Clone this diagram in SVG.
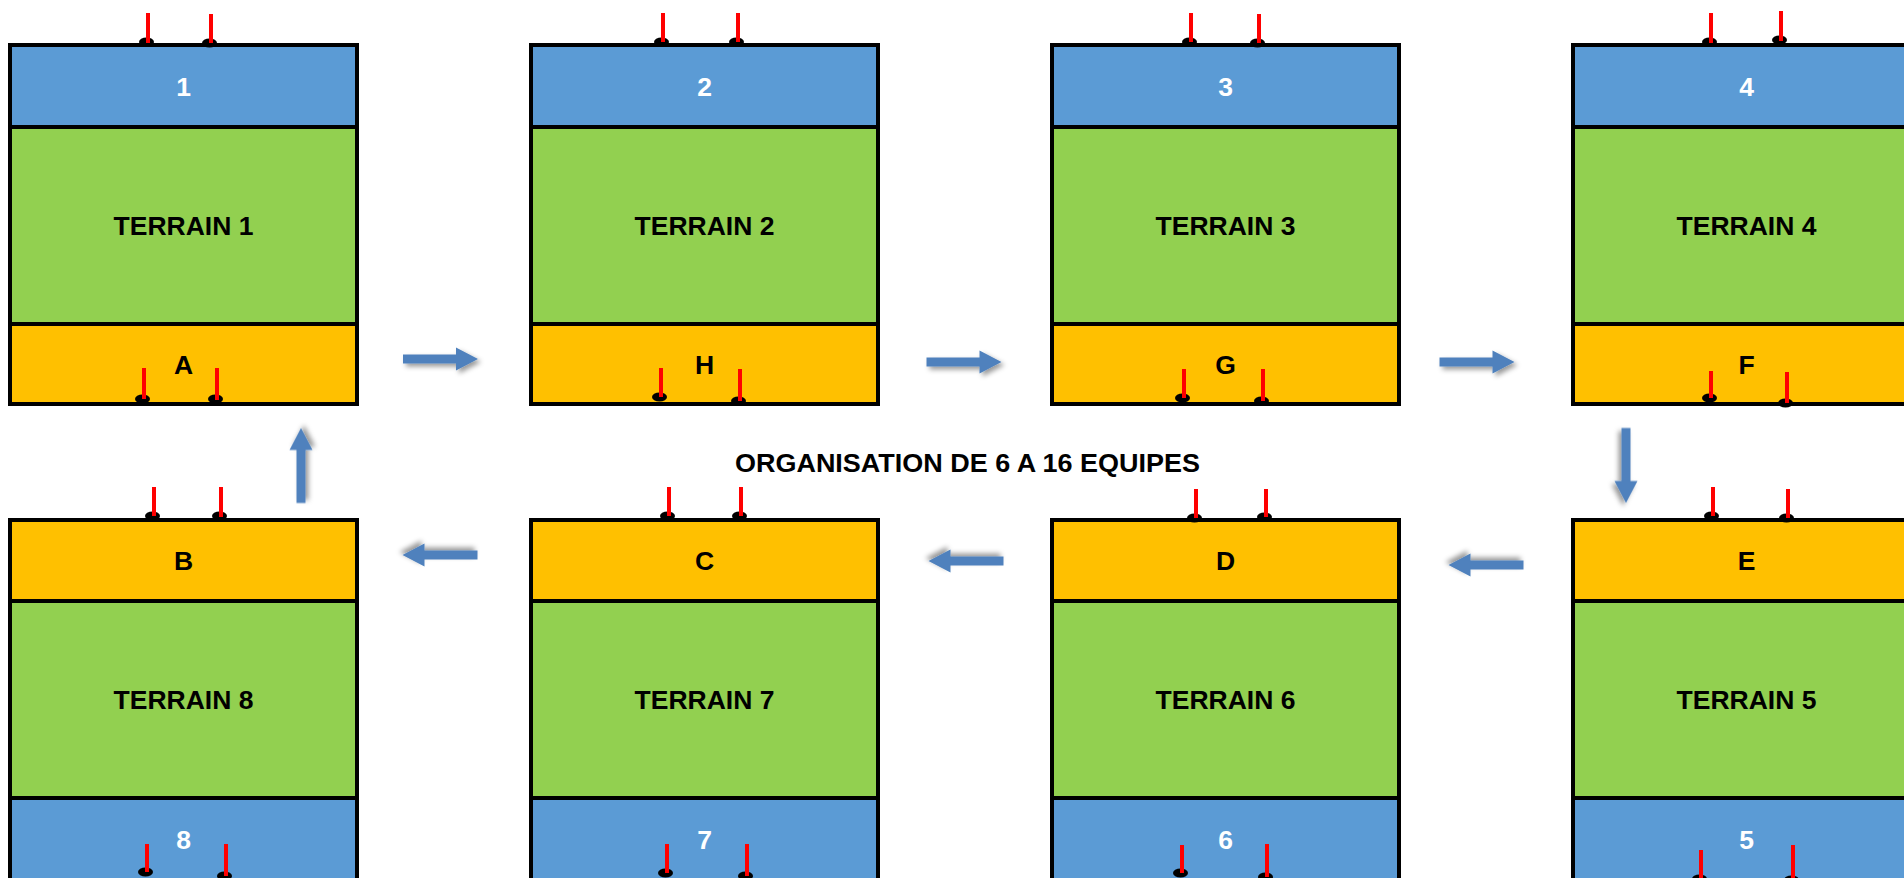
<svg xmlns="http://www.w3.org/2000/svg" width="1904" height="878" viewBox="0 0 1904 878">
<style>
.blue{fill:#5B9BD5;stroke:#000;stroke-width:4}
.green{fill:#92D050;stroke:#000;stroke-width:4}
.orange{fill:#FFC000;stroke:#000;stroke-width:4}
text{font-family:"Liberation Sans",Arial,sans-serif;font-weight:bold;font-size:26.5px;text-anchor:middle}
.w{fill:#fff}
.k{fill:#000}
.pole{stroke:#FF0000;stroke-width:4}
.base{fill:#000}
.arrow{fill:#4F81BD;filter:url(#sh)}
</style>
<defs>
<filter id="sh" x="-30%" y="-60%" width="160%" height="220%">
<feDropShadow dx="3" dy="3" stdDeviation="2.5" flood-color="#000" flood-opacity="0.4"/>
</filter>
<path id="arr" d="M-37.5,-4.5 H15.5 V-11.5 L37.5,0 L15.5,11.5 V4.5 H-37.5 Z"/>
</defs>
<rect width="1904" height="878" fill="#fff"/>

<g id="terrain1">
<rect class="blue" x="10" y="45" width="347" height="82"/>
<rect class="green" x="10" y="127" width="347" height="197"/>
<rect class="orange" x="10" y="324" width="347" height="80"/>
<text class="w" x="183.5" y="96">1</text>
<text class="k" x="183.5" y="235">TERRAIN 1</text>
<text class="k" x="183.5" y="374">A</text>
</g>
<g id="terrain2">
<rect class="blue" x="531" y="45" width="347" height="82"/>
<rect class="green" x="531" y="127" width="347" height="197"/>
<rect class="orange" x="531" y="324" width="347" height="80"/>
<text class="w" x="704.5" y="96">2</text>
<text class="k" x="704.5" y="235">TERRAIN 2</text>
<text class="k" x="704.5" y="374">H</text>
</g>
<g id="terrain3">
<rect class="blue" x="1052" y="45" width="347" height="82"/>
<rect class="green" x="1052" y="127" width="347" height="197"/>
<rect class="orange" x="1052" y="324" width="347" height="80"/>
<text class="w" x="1225.5" y="96">3</text>
<text class="k" x="1225.5" y="235">TERRAIN 3</text>
<text class="k" x="1225.5" y="374">G</text>
</g>
<g id="terrain4">
<rect class="blue" x="1573" y="45" width="347" height="82"/>
<rect class="green" x="1573" y="127" width="347" height="197"/>
<rect class="orange" x="1573" y="324" width="347" height="80"/>
<text class="w" x="1746.5" y="96">4</text>
<text class="k" x="1746.5" y="235">TERRAIN 4</text>
<text class="k" x="1746.5" y="374">F</text>
</g>
<g id="terrain8">
<rect class="orange" x="10" y="520" width="347" height="81"/>
<rect class="green" x="10" y="601" width="347" height="197"/>
<rect class="blue" x="10" y="798" width="347" height="84"/>
<text class="k" x="183.5" y="570">B</text>
<text class="k" x="183.5" y="709">TERRAIN 8</text>
<text class="w" x="183.5" y="849">8</text>
</g>
<g id="terrain7">
<rect class="orange" x="531" y="520" width="347" height="81"/>
<rect class="green" x="531" y="601" width="347" height="197"/>
<rect class="blue" x="531" y="798" width="347" height="84"/>
<text class="k" x="704.5" y="570">C</text>
<text class="k" x="704.5" y="709">TERRAIN 7</text>
<text class="w" x="704.5" y="849">7</text>
</g>
<g id="terrain6">
<rect class="orange" x="1052" y="520" width="347" height="81"/>
<rect class="green" x="1052" y="601" width="347" height="197"/>
<rect class="blue" x="1052" y="798" width="347" height="84"/>
<text class="k" x="1225.5" y="570">D</text>
<text class="k" x="1225.5" y="709">TERRAIN 6</text>
<text class="w" x="1225.5" y="849">6</text>
</g>
<g id="terrain5">
<rect class="orange" x="1573" y="520" width="347" height="81"/>
<rect class="green" x="1573" y="601" width="347" height="197"/>
<rect class="blue" x="1573" y="798" width="347" height="84"/>
<text class="k" x="1746.5" y="570">E</text>
<text class="k" x="1746.5" y="709">TERRAIN 5</text>
<text class="w" x="1746.5" y="849">5</text>
</g>

<g id="poles">
<ellipse class="base" cx="146.5" cy="42" rx="7.5" ry="4.5"/><line class="pole" x1="148" y1="13" x2="148" y2="43"/>
<ellipse class="base" cx="209.5" cy="43" rx="7.5" ry="4.5"/><line class="pole" x1="211" y1="14" x2="211" y2="43"/>
<ellipse class="base" cx="661.5" cy="42" rx="7.5" ry="4.5"/><line class="pole" x1="663" y1="13" x2="663" y2="42"/>
<ellipse class="base" cx="736.5" cy="42" rx="7.5" ry="4.5"/><line class="pole" x1="738" y1="13" x2="738" y2="42"/>
<ellipse class="base" cx="1189.5" cy="42" rx="7.5" ry="4.5"/><line class="pole" x1="1191" y1="13" x2="1191" y2="42"/>
<ellipse class="base" cx="1257.5" cy="43" rx="7.5" ry="4.5"/><line class="pole" x1="1259" y1="14" x2="1259" y2="43"/>
<ellipse class="base" cx="1709.5" cy="42" rx="7.5" ry="4.5"/><line class="pole" x1="1711" y1="13" x2="1711" y2="43"/>
<ellipse class="base" cx="1779.5" cy="40" rx="7.5" ry="4.5"/><line class="pole" x1="1781" y1="11" x2="1781" y2="41"/>

<ellipse class="base" cx="142.5" cy="399" rx="7.5" ry="4.5"/><line class="pole" x1="144" y1="368" x2="144" y2="399"/>
<ellipse class="base" cx="215.5" cy="399" rx="7.5" ry="4.5"/><line class="pole" x1="217" y1="368" x2="217" y2="400"/>
<ellipse class="base" cx="659.5" cy="397" rx="7.5" ry="4.5"/><line class="pole" x1="661" y1="368" x2="661" y2="397"/>
<ellipse class="base" cx="738.5" cy="401" rx="7.5" ry="4.5"/><line class="pole" x1="740" y1="369" x2="740" y2="401"/>
<ellipse class="base" cx="1182.5" cy="398" rx="7.5" ry="4.5"/><line class="pole" x1="1184" y1="369" x2="1184" y2="398"/>
<ellipse class="base" cx="1261.5" cy="401" rx="7.5" ry="4.5"/><line class="pole" x1="1263" y1="369" x2="1263" y2="401"/>
<ellipse class="base" cx="1709.5" cy="398" rx="7.5" ry="4.5"/><line class="pole" x1="1711" y1="371" x2="1711" y2="398"/>
<ellipse class="base" cx="1785.5" cy="403" rx="7.5" ry="4.5"/><line class="pole" x1="1787" y1="372" x2="1787" y2="403"/>

<ellipse class="base" cx="152.5" cy="516" rx="7.5" ry="4.5"/><line class="pole" x1="154" y1="487" x2="154" y2="516"/>
<ellipse class="base" cx="219.5" cy="516" rx="7.5" ry="4.5"/><line class="pole" x1="221" y1="487" x2="221" y2="517"/>
<ellipse class="base" cx="667.5" cy="516" rx="7.5" ry="4.5"/><line class="pole" x1="669" y1="487" x2="669" y2="516"/>
<ellipse class="base" cx="739.5" cy="516" rx="7.5" ry="4.5"/><line class="pole" x1="741" y1="487" x2="741" y2="516"/>
<ellipse class="base" cx="1194.5" cy="518" rx="7.5" ry="4.5"/><line class="pole" x1="1196" y1="489" x2="1196" y2="518"/>
<ellipse class="base" cx="1264.5" cy="517" rx="7.5" ry="4.5"/><line class="pole" x1="1266" y1="489" x2="1266" y2="517"/>
<ellipse class="base" cx="1711.5" cy="516" rx="7.5" ry="4.5"/><line class="pole" x1="1713" y1="487" x2="1713" y2="516"/>
<ellipse class="base" cx="1786.5" cy="518" rx="7.5" ry="4.5"/><line class="pole" x1="1788" y1="489" x2="1788" y2="518"/>

<ellipse class="base" cx="145.5" cy="872" rx="7.5" ry="4.5"/><line class="pole" x1="147" y1="844" x2="147" y2="872"/>
<ellipse class="base" cx="224.5" cy="876" rx="7.5" ry="4.5"/><line class="pole" x1="226" y1="844" x2="226" y2="876"/>
<ellipse class="base" cx="665.5" cy="873" rx="7.5" ry="4.5"/><line class="pole" x1="667" y1="844" x2="667" y2="873"/>
<ellipse class="base" cx="745.5" cy="876" rx="7.5" ry="4.5"/><line class="pole" x1="747" y1="844" x2="747" y2="876"/>
<ellipse class="base" cx="1180.5" cy="873" rx="7.5" ry="4.5"/><line class="pole" x1="1182" y1="845" x2="1182" y2="873"/>
<ellipse class="base" cx="1265.5" cy="877" rx="7.5" ry="4.5"/><line class="pole" x1="1267" y1="844" x2="1267" y2="877"/>
<ellipse class="base" cx="1699.5" cy="879" rx="7.5" ry="4.5"/><line class="pole" x1="1701" y1="850" x2="1701" y2="879"/>
<ellipse class="base" cx="1791.5" cy="880" rx="7.5" ry="4.5"/><line class="pole" x1="1793" y1="845" x2="1793" y2="880"/>
</g>

<g id="connectors">
<use href="#arr" class="arrow" transform="translate(440.5,359)"/>
<use href="#arr" class="arrow" transform="translate(964,362)"/>
<use href="#arr" class="arrow" transform="translate(1477,362)"/>
<use href="#arr" class="arrow" transform="translate(1626,465.5) rotate(90)"/>
<use href="#arr" class="arrow" transform="translate(1486,565) rotate(180)"/>
<use href="#arr" class="arrow" transform="translate(966,561) rotate(180)"/>
<use href="#arr" class="arrow" transform="translate(440,555) rotate(180)"/>
<use href="#arr" class="arrow" transform="translate(301,465.5) rotate(-90)"/>
</g>

<text id="title" class="k" x="967.5" y="472" textLength="465" lengthAdjust="spacingAndGlyphs">ORGANISATION DE 6 A 16 EQUIPES</text>
</svg>
